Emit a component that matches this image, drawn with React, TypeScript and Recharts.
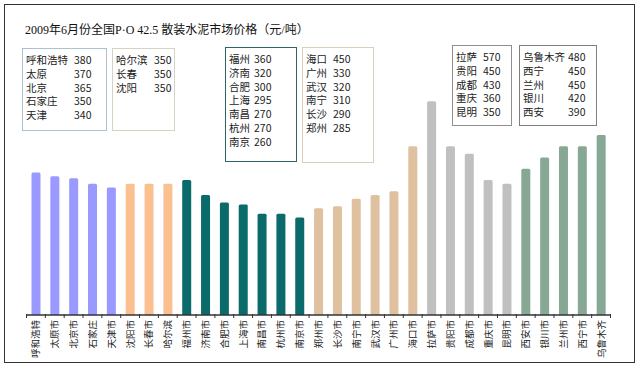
import { BarChart, Bar, XAxis, YAxis, Cell } from "recharts";

const cities = [
  "呼和浩特", "太原", "北京", "石家庄", "天津",
  "沈阳", "长春", "哈尔滨",
  "福州", "济南", "合肥", "上海", "南昌", "杭州", "南京",
  "郑州", "长沙", "南宁", "武汉", "广州", "海口",
  "拉萨", "贵阳", "成都", "重庆", "昆明",
  "西安", "银川", "兰州", "西宁", "乌鲁木齐",
];

const axisLabels = [
  "呼和浩特", "太原市", "北京市", "石家庄", "天津市",
  "沈阳市", "长春市", "哈尔滨",
  "福州市", "济南市", "合肥市", "上海市", "南昌市", "杭州市", "南京市",
  "郑州市", "长沙市", "南宁市", "武汉市", "广州市", "海口市",
  "拉萨市", "贵阳市", "成都市", "重庆市", "昆明市",
  "西安市", "银川市", "兰州市", "西宁市", "乌鲁木齐",
];

const prices = [
  380, 370, 365, 350, 340,
  350, 350, 350,
  360, 320, 300, 295, 270, 270, 260,
  285, 290, 310, 320, 330, 450,
  570, 450, 430, 360, 350,
  390, 420, 450, 450, 480,
];

const regionOf = [
  0, 0, 0, 0, 0,
  1, 1, 1,
  2, 2, 2, 2, 2, 2, 2,
  3, 3, 3, 3, 3, 3,
  4, 4, 4, 4, 4,
  5, 5, 5, 5, 5,
];

// city lists shown in the legend boxes, in the order of the picture
const boxLists = [
  ["呼和浩特", "太原", "北京", "石家庄", "天津"],
  ["哈尔滨", "长春", "沈阳"],
  ["福州", "济南", "合肥", "上海", "南昌", "杭州", "南京"],
  ["海口", "广州", "武汉", "南宁", "长沙", "郑州"],
  ["拉萨", "贵阳", "成都", "重庆", "昆明"],
  ["乌鲁木齐", "西宁", "兰州", "银川", "西安"],
];

const title = "2009年6月份全国P·O 42.5 散装水泥市场价格（元/吨）";

const COLORS = ["#9999ff", "#fac090", "#0b6a6a", "#dfc19f", "#c0c0c0", "#88a896"];

const W = 640;
const H = 381;
const M = { top: 90, right: 29.5, left: 26.5, bottom: 0 };
const PLOT_W = W - M.left - M.right;
const STEP = PLOT_W / cities.length;

// layout of the legend boxes: left, top, width, height, value column, border
const boxes = [
  { x: 22, y: 48, w: 85, h: 83, vx: 51, border: "#a9c3d3" },
  { x: 112, y: 48, w: 63, h: 83, vx: 41, border: "#d8d2c2" },
  { x: 225, y: 47, w: 72, h: 115, vx: 28, border: "#2f6467" },
  { x: 302, y: 47, w: 72, h: 116, vx: 30, border: "#d8d1b8" },
  { x: 452, y: 45, w: 60, h: 81, vx: 30, border: "#8f8f8f" },
  { x: 519, y: 45, w: 78, h: 81, vx: 48, border: "#7f7f7f" },
];

const data = cities.map((c, i) => ({
  city: c,
  label: axisLabels[i],
  price: prices[i],
  region: regionOf[i],
}));

const priceOf = (name: string) => prices[cities.indexOf(name)];

const CityTick = (props: any) => {
  const { x, y, index, payload } = props;
  const left = x - STEP / 2;
  return (
    <g>
      <line x1={left} x2={left} y1={y - 1} y2={y + 3} stroke="#333" strokeWidth={1} />
      {index === cities.length - 1 && (
        <line x1={x + STEP / 2} x2={x + STEP / 2} y1={y - 1} y2={y + 3} stroke="#333" />
      )}
      <text
        transform={`translate(${x + 3.5},${y + 5}) rotate(-90)`}
        textAnchor="end"
        fontSize={9.5}
        fontFamily="'Noto Sans CJK SC'"
        fill="#222"
      >
        {axisLabels[cities.indexOf(payload.value)]}
      </text>
    </g>
  );
};

const App = () => {
  return (
    <div
      style={{
        position: "absolute",
        left: 0,
        top: 0,
        width: W,
        height: H,
        background: "#fff",
        fontFamily: "'Noto Sans CJK SC', sans-serif",
      }}
    >
      <BarChart width={W} height={H} data={data} margin={M} barCategoryGap={0}>
        <XAxis
          dataKey="city"
          interval={0}
          height={66}
          tickLine={false}
          tickSize={0}
          tickMargin={0}
          axisLine={{ stroke: "#333", strokeWidth: 1.5 }}
          tick={<CityTick />}
        />
        <YAxis hide domain={[0, 600]} />
        <Bar dataKey="price" barSize={9} radius={[1.5, 1.5, 0, 0]} isAnimationActive={false}>
          {data.map((d, i) => (
            <Cell key={`c-${i}`} fill={COLORS[d.region]} />
          ))}
        </Bar>
      </BarChart>

      {/* outer frame */}
      <div
        style={{
          position: "absolute",
          left: 4,
          top: 4,
          width: 629,
          height: 357,
          border: "1.5px solid #333",
          pointerEvents: "none",
        }}
      />

      <div
        style={{
          position: "absolute",
          left: 25,
          top: 20,
          fontSize: 12,
          fontFamily: "'Liberation Serif', 'Noto Sans CJK SC', serif",
          color: "#111",
          whiteSpace: "nowrap",
        }}
      >
        {title}
      </div>

      {boxes.map((b, bi) => (
        <div
          key={`box-${bi}`}
          style={{
            position: "absolute",
            left: b.x,
            top: b.y,
            width: b.w,
            height: b.h,
            border: `1px solid ${b.border}`,
            boxSizing: "border-box",
            background: "#fff",
            paddingTop: 4,
          }}
        >
          {boxLists[bi].map((name) => (
            <div
              key={name}
              style={{
                position: "relative",
                height: 13.8,
                lineHeight: "13.8px",
                fontSize: 10.5,
                color: "#222",
                whiteSpace: "nowrap",
              }}
            >
              <span style={{ position: "absolute", left: 3 }}>{name}</span>
              <span style={{ position: "absolute", left: b.vx }}>{priceOf(name)}</span>
            </div>
          ))}
        </div>
      ))}
    </div>
  );
};

export default App;
